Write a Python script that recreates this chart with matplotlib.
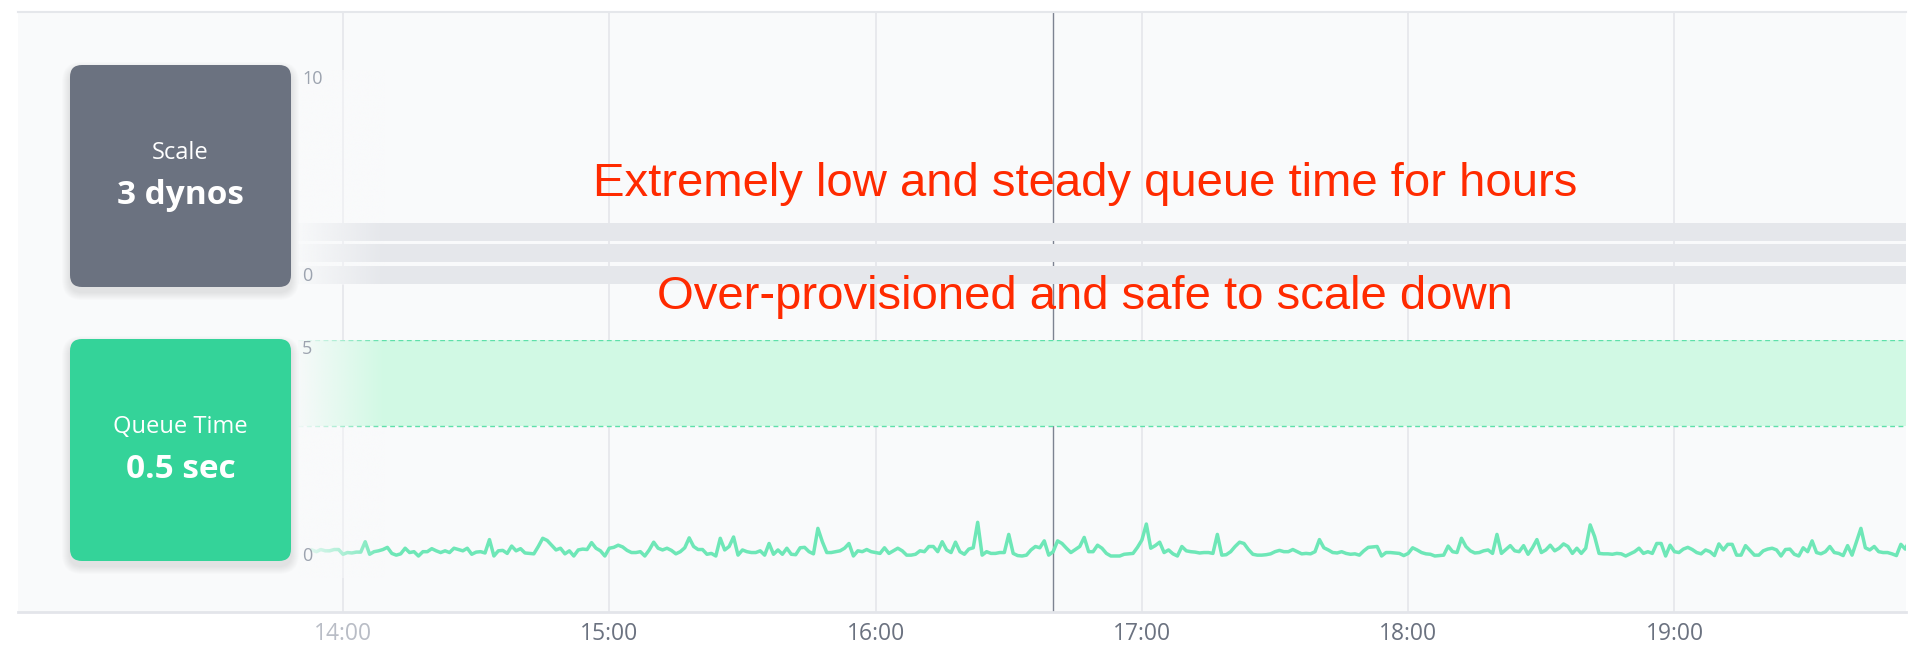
import numpy as np
import pandas as pd
import matplotlib
matplotlib.use("Agg")
import matplotlib.pyplot as plt
from matplotlib.patches import FancyBboxPatch
from matplotlib.colors import to_rgb

# queue time (seconds), one reading per minute starting 13:53
queue_time = [
    0.14, 0.10, 0.15, 0.12, 0.12, 0.15, 0.15, 0.04, 0.08, 0.07,
    0.09, 0.09, 0.33, 0.04, 0.10, 0.12, 0.15, 0.20, 0.06, 0.02,
    0.05, 0.18, 0.08, 0.10, 0.00, 0.10, 0.10, 0.17, 0.12, 0.08,
    0.12, 0.08, 0.18, 0.15, 0.12, 0.18, 0.04, 0.09, 0.10, 0.07,
    0.38, 0.00, 0.12, 0.13, 0.06, 0.23, 0.12, 0.17, 0.07, 0.06,
    0.05, 0.22, 0.41, 0.36, 0.25, 0.14, 0.18, 0.05, 0.12,
    0.00, 0.14, 0.16, 0.15, 0.31, 0.18, 0.12, 0.00, 0.18, 0.20,
    0.25, 0.21, 0.13, 0.08, 0.08, 0.10, 0.00, 0.14, 0.32, 0.18,
    0.14, 0.18, 0.13, 0.05, 0.10, 0.19, 0.42, 0.22, 0.15, 0.15,
    0.04, 0.06, 0.00, 0.41, 0.14, 0.22, 0.44, 0.02, 0.14, 0.10,
    0.08, 0.08, 0.12, 0.02, 0.29, 0.04, 0.14, 0.04, 0.18, 0.04,
    0.03, 0.19, 0.20, 0.10, 0.05, 0.64, 0.33, 0.08, 0.08, 0.10,
    0.12,
    0.18, 0.29, 0.00, 0.12, 0.10, 0.15, 0.10, 0.08, 0.06, 0.19,
    0.06, 0.12, 0.18, 0.12, 0.02, 0.02, 0.04, 0.12, 0.10, 0.22,
    0.22, 0.10, 0.33, 0.14, 0.08, 0.32, 0.10, 0.04, 0.16, 0.19,
    0.78, 0.02, 0.10, 0.06, 0.06, 0.08, 0.08, 0.50, 0.06, 0.01,
    0.00, 0.02, 0.14, 0.22, 0.19, 0.35, 0.02, 0.10, 0.35, 0.29,
    0.18, 0.08, 0.15, 0.22, 0.43, 0.10, 0.10, 0.25, 0.18, 0.06,
    0.00,
    0.00, 0.00, 0.04, 0.05, 0.06, 0.20, 0.37, 0.74, 0.18, 0.24,
    0.32, 0.08, 0.14, 0.05, 0.00, 0.22, 0.12, 0.10, 0.09, 0.07,
    0.08, 0.08, 0.06, 0.50, 0.02, 0.03, 0.10, 0.22, 0.32, 0.29,
    0.15, 0.04, 0.02, 0.02, 0.03, 0.05, 0.10, 0.13, 0.10, 0.10,
    0.15, 0.10, 0.05, 0.06, 0.05, 0.10, 0.38, 0.19, 0.14, 0.08,
    0.07, 0.10, 0.06, 0.04, 0.05, 0.02, 0.12, 0.20, 0.21, 0.22,
    0.00,
    0.08, 0.08, 0.07, 0.06, 0.01, 0.06, 0.19, 0.14, 0.08, 0.05,
    0.04, 0.00, 0.01, 0.02, 0.23, 0.10, 0.08, 0.41, 0.22, 0.12,
    0.07, 0.08, 0.12, 0.14, 0.06, 0.50, 0.06, 0.15, 0.24, 0.12,
    0.10, 0.24, 0.04, 0.19, 0.38, 0.08, 0.14, 0.25, 0.12, 0.18,
    0.28, 0.22, 0.06, 0.18, 0.06, 0.18, 0.72, 0.45, 0.06, 0.05,
    0.05, 0.04, 0.06, 0.05, 0.00, 0.05, 0.10, 0.18, 0.06, 0.10,
    0.06,
    0.29, 0.29, 0.00, 0.25, 0.10, 0.08, 0.16, 0.20, 0.15, 0.08,
    0.05, 0.14, 0.10, 0.01, 0.28, 0.14, 0.27, 0.27, 0.02, 0.02,
    0.24, 0.13, 0.02, 0.02, 0.12, 0.16, 0.18, 0.14, 0.00, 0.15,
    0.16, 0.04, 0.00, 0.19, 0.10, 0.35, 0.08, 0.05, 0.10, 0.22,
    0.08, 0.06, 0.01, 0.24, 0.02, 0.33, 0.64, 0.19, 0.14, 0.22,
    0.10, 0.08, 0.08, 0.05, 0.01, 0.27, 0.16, 0.37,
]
start_time = "2021-03-01 13:53"
day = "2021-03-01"
hour_ticks = ["14:00", "15:00", "16:00", "17:00", "18:00", "19:00"]
cursor_time = "16:40"

dynos = 3
scale_ticks = [0, 10]
queue_now = 0.5
queue_ticks = [0, 5]
queue_range = [3, 5]

note_top = "Extremely low and steady queue time for hours"
note_bottom = "Over-provisioned and safe to scale down"

W, H = 1920, 669
PX_PER_HOUR = 266.3
X_14 = 343
PANEL_BG = "#f9fafb"
FONT = ["Open Sans", "DejaVu Sans"]


def rect(x0, y0, x1, y1):
    return [x0 / W, 1 - y1 / H, (x1 - x0) / W, (y1 - y0) / H]


def px_time(px):
    return pd.Timestamp(day) + pd.Timedelta(hours=14 + (px - X_14) / PX_PER_HOUR)


times = pd.date_range(start_time, periods=len(queue_time), freq="min")

fig = plt.figure(figsize=(W / 100, H / 100), dpi=100)
fig.patch.set_facecolor("white")

# background panel with hour grid
ax = fig.add_axes(rect(18, 12, 1906, 612))
ax.set_facecolor(PANEL_BG)
ax.set_xlim(px_time(18), px_time(1906))
ax.set_ylim(0, 1)
ax.set_yticks([])
hours = [pd.Timestamp(day + " " + h) for h in hour_ticks]
for h in hours:
    ax.axvline(h, color="#e3e5e9", lw=1.1, zorder=0)
ax.axvline(pd.Timestamp(day + " " + cursor_time), color="#7d8391", lw=1.0, zorder=1)
ax.set_xticks(hours)
ax.set_xticklabels(hour_ticks, fontsize=16.5, color="#6b7280", family=FONT)
ax.get_xticklabels()[0].set_color("#b9bdc6")
ax.tick_params(axis="x", length=0, pad=7)
for s in ["left", "right"]:
    ax.spines[s].set_visible(False)
ax.spines["top"].set_color("#e5e7eb")
ax.spines["top"].set_linewidth(1.5)
ax.spines["bottom"].set_color("#e3e5ea")
ax.spines["bottom"].set_linewidth(2)


def fade(a):
    grad = np.ones((2, 256, 4))
    grad[..., :3] = to_rgb(PANEL_BG)
    grad[..., 3] = np.linspace(0.95, 0, 256)
    f = (385 - 298) / (1906 - 298)
    a.imshow(grad, extent=[0, f, 0, 1], transform=a.transAxes,
             aspect="auto", zorder=2.2, interpolation="bilinear")


def side_ticks(a, ticks, aligns):
    a.set_yticks(ticks)
    a.set_yticklabels([str(t) for t in ticks], fontsize=13,
                      color="#9ca3af", family=FONT, ha="left")
    for lab, va in zip(a.get_yticklabels(), aligns):
        lab.set_va(va)
    a.tick_params(axis="y", length=0, pad=-3)
    a.yaxis.set_zorder(3)
    a.set_xticks([])
    for s in a.spines.values():
        s.set_visible(False)


# scale (dynos) strip
ax_s = fig.add_axes(rect(298, 70, 1906, 285))
ax_s.patch.set_alpha(0)
for i in range(dynos):
    ax_s.axhspan(i + 0.05, i + 0.9, color="#e5e7eb", lw=0, zorder=1)
fade(ax_s)
ax_s.set_xlim(px_time(298), px_time(1906))
ax_s.set_ylim(0, 10)
side_ticks(ax_s, scale_ticks, ["bottom", "top"])

# queue time strip
ax_q = fig.add_axes(rect(298, 340, 1906, 577.6))
ax_q.patch.set_alpha(0)
ax_q.axhspan(queue_range[0], queue_range[1], color="#d1f9e4", lw=0, zorder=1)
for y in queue_range:
    ax_q.axhline(y, color="#5fe0aa", lw=1.0, ls=(0, (3.5, 2.5)), zorder=1.5)
ax_q.plot(times, queue_time, color="#6ee7b7", lw=2.5, zorder=2)
fade(ax_q)
ax_q.set_xlim(px_time(298), px_time(1906))
ax_q.set_ylim(-0.5, 5)
side_ticks(ax_q, queue_ticks, ["center", "top"])

# overlay: cards and notes, pixel coordinates
ov = fig.add_axes([0, 0, 1, 1], zorder=5)
ov.set_xlim(0, W)
ov.set_ylim(H, 0)
ov.axis("off")


def card(y0, color, title, value):
    x0, w, h = 70, 221, 222
    for k in range(1, 9):
        ov.add_patch(FancyBboxPatch((x0 - k, y0 - k + 5), w + 2 * k, h + 2 * k,
                                    boxstyle="round,pad=0,rounding_size=%d" % (12 + k),
                                    fc="black", ec="none", alpha=0.012))
    ov.add_patch(FancyBboxPatch((x0, y0), w, h,
                                boxstyle="round,pad=0,rounding_size=12",
                                fc=color, ec="none"))
    cx = x0 + w / 2
    ov.text(cx, y0 + 88, title, color="white", fontsize=17, family=FONT,
            ha="center", va="center")
    ov.text(cx, y0 + 131, value, color="white", fontsize=24, family=FONT,
            fontweight="bold", ha="center", va="center")


card(65, "#6b7280", "Scale", "%d dynos" % dynos)
card(339, "#34d399", "Queue Time", "%s sec" % queue_now)

red = "#ff2a00"
ov.text(1085, 196, note_top, color=red, fontsize=34, family=["Liberation Sans"],
        ha="center", va="baseline")
ov.text(1085, 309, note_bottom, color=red, fontsize=34, family=["Liberation Sans"],
        ha="center", va="baseline")

fig.savefig("out.png", dpi=100, facecolor="white")
